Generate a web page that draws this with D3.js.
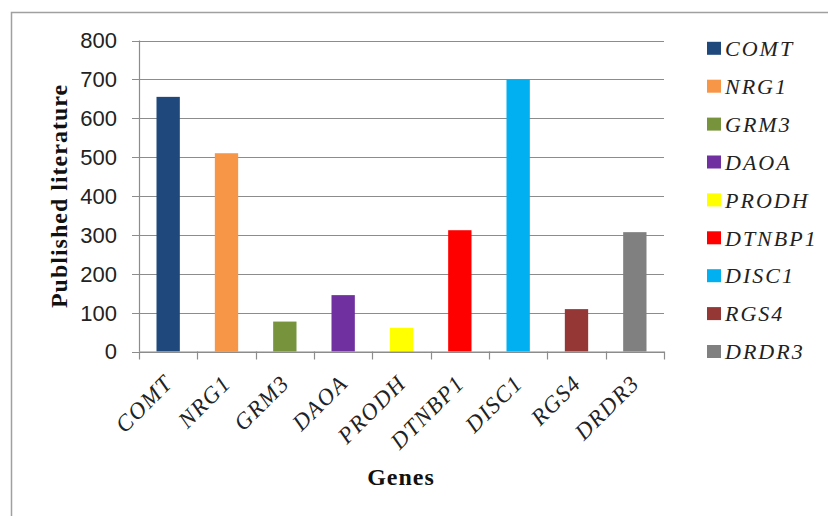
<!DOCTYPE html>
<html>
<head>
<meta charset="utf-8">
<script src="https://cdn.jsdelivr.net/npm/d3@7"></script>
<style>
  body { margin: 0; background: #fff; }
</style>
</head>
<body>
<div class="chart"></div>
<script>
// data
var genes = ["COMT", "NRG1", "GRM3", "DAOA", "PRODH", "DTNBP1", "DISC1", "RGS4", "DRDR3"];
var papers = [655, 510, 77, 145, 61, 312, 700, 109, 307];
var colors = ["#1f497d", "#f79646", "#77933c", "#7030a0", "#ffff00", "#ff0000", "#00b0f0", "#953735", "#808080"];
var yTicks = [0, 100, 200, 300, 400, 500, 600, 700, 800];

var width = 828, height = 516;
var plotLeft = 139, plotRight = 664, plotTop = 40.5, plotBottom = 351.5;
var serif = "'Liberation Serif', 'Times New Roman', serif";

var svg = d3.select(".chart").append("svg")
  .attr("width", width)
  .attr("height", height);

// outer frame (only top and left show in the picture)
svg.append("path")
  .attr("d", "M11.5," + height + "V12.5H" + width)
  .attr("fill", "none")
  .attr("stroke", "#a0a0a0")
  .attr("stroke-width", 1.5);

var x = d3.scaleBand()
  .domain(genes)
  .range([plotLeft, plotRight])
  .paddingInner(0.6)
  .paddingOuter(0.3);

var y = d3.scaleLinear()
  .domain([0, 800])
  .range([plotBottom, plotTop]);

// gridlines
svg.append("g")
  .selectAll("line")
  .data(yTicks)
  .enter().append("line")
  .attr("x1", plotLeft - 7)
  .attr("x2", plotRight)
  .attr("y1", function (d) { return Math.round(y(d)) + 0.5; })
  .attr("y2", function (d) { return Math.round(y(d)) + 0.5; })
  .attr("stroke", "#8c8c8c")
  .attr("stroke-width", 1.2);

// y tick labels
svg.append("g")
  .selectAll("text")
  .data(yTicks)
  .enter().append("text")
  .attr("x", plotLeft - 22)
  .attr("y", function (d) { return y(d); })
  .attr("dy", "0.36em")
  .attr("text-anchor", "end")
  .attr("font-family", "'Liberation Sans', Arial, sans-serif")
  .attr("font-size", 22)
  .attr("fill", "#222")
  .text(function (d) { return d; });

// y axis line
svg.append("line")
  .attr("x1", plotLeft + 0.5).attr("x2", plotLeft + 0.5)
  .attr("y1", plotTop).attr("y2", plotBottom)
  .attr("stroke", "#8c8c8c")
  .attr("stroke-width", 1.2);

// bars
svg.append("g")
  .selectAll("rect")
  .data(genes)
  .enter().append("rect")
  .attr("x", function (d) { return x(d); })
  .attr("y", function (d, i) { return y(papers[i]); })
  .attr("width", x.bandwidth())
  .attr("height", function (d, i) { return y(0) - y(papers[i]); })
  .attr("fill", function (d, i) { return colors[i]; });

// x axis with category tick marks
var step = x.step();
var xTickPos = d3.range(genes.length + 1).map(function (i) { return plotLeft + i * step; });
svg.append("line")
  .attr("x1", plotLeft).attr("x2", plotRight)
  .attr("y1", plotBottom + 0.5).attr("y2", plotBottom + 0.5)
  .attr("stroke", "#8c8c8c")
  .attr("stroke-width", 1.2);
svg.append("g")
  .selectAll("line")
  .data(xTickPos)
  .enter().append("line")
  .attr("x1", function (d) { return Math.round(d) + 0.5; })
  .attr("x2", function (d) { return Math.round(d) + 0.5; })
  .attr("y1", plotBottom)
  .attr("y2", plotBottom + 8)
  .attr("stroke", "#8c8c8c")
  .attr("stroke-width", 1.2);

// rotated category labels
svg.append("g")
  .selectAll("text")
  .data(genes)
  .enter().append("text")
  .attr("transform", function (d) {
    return "translate(" + (x(d) + x.bandwidth() / 2 + 6) + "," + (plotBottom + 33) + ") rotate(-45)";
  })
  .attr("text-anchor", "end")
  .attr("font-family", serif)
  .attr("font-style", "italic")
  .attr("font-size", 23)
  .attr("letter-spacing", 1.5)
  .attr("fill", "#222")
  .text(function (d) { return d; });

// axis titles
svg.append("text")
  .attr("transform", "translate(67,196) rotate(-90)")
  .attr("text-anchor", "middle")
  .attr("font-family", serif)
  .attr("font-weight", "bold")
  .attr("font-size", 24)
  .attr("letter-spacing", 1)
  .attr("fill", "#111")
  .text("Published literature");

svg.append("text")
  .attr("x", 401)
  .attr("y", 485)
  .attr("text-anchor", "middle")
  .attr("font-family", serif)
  .attr("font-weight", "bold")
  .attr("font-size", 24)
  .attr("letter-spacing", 1)
  .attr("fill", "#111")
  .text("Genes");

// legend
var legend = svg.append("g")
  .selectAll("g")
  .data(genes)
  .enter().append("g")
  .attr("transform", function (d, i) { return "translate(707," + (48.3 + i * 37.9) + ")"; });

legend.append("rect")
  .attr("x", 0)
  .attr("y", -6.5)
  .attr("width", 14)
  .attr("height", 13)
  .attr("fill", function (d, i) { return colors[i]; });

legend.append("text")
  .attr("x", 18)
  .attr("dy", "0.35em")
  .attr("font-family", serif)
  .attr("font-style", "italic")
  .attr("font-size", 22)
  .attr("letter-spacing", 2)
  .attr("fill", "#222")
  .text(function (d) { return d; });
</script>
</body>
</html>
